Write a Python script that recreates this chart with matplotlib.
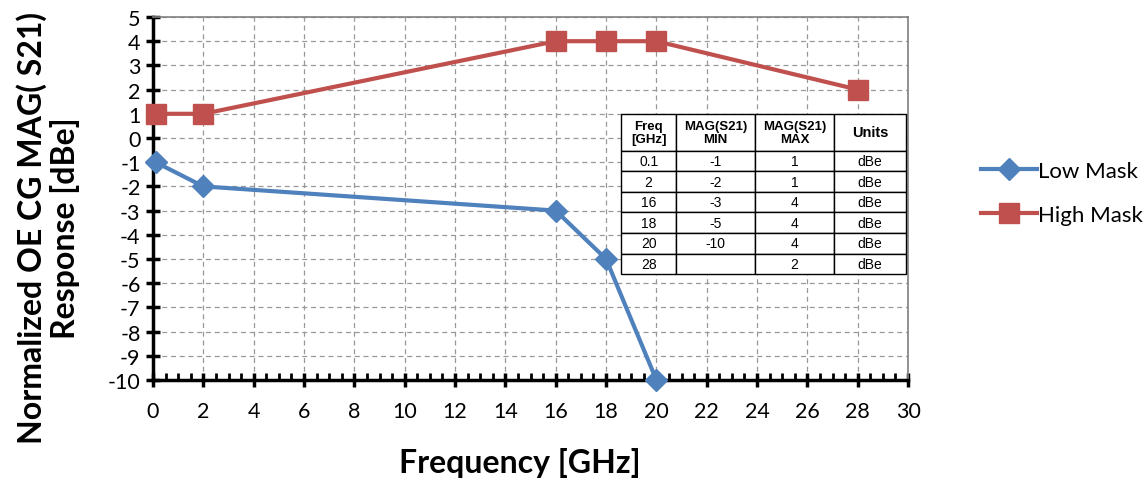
import numpy as np
import matplotlib.pyplot as plt
from matplotlib.ticker import MultipleLocator

# mask data
low_freq = [0.1, 2, 16, 18, 20]
low_mag = [-1, -2, -3, -5, -10]
high_freq = [0.1, 2, 16, 18, 20, 28]
high_mag = [1, 1, 4, 4, 4, 2]

table_header = ['Freq\n[GHz]', 'MAG(S21)\nMIN', 'MAG(S21)\nMAX', 'Units']
table_rows = [
    ['0.1', '-1', '1', 'dBe'],
    ['2', '-2', '1', 'dBe'],
    ['16', '-3', '4', 'dBe'],
    ['18', '-5', '4', 'dBe'],
    ['20', '-10', '4', 'dBe'],
    ['28', '', '2', 'dBe'],
]

plt.rcParams['font.family'] = ['Lato', 'DejaVu Sans']
plt.rcParams['axes.unicode_minus'] = False

fig = plt.figure(figsize=(11.47, 4.85), dpi=100)
ax = fig.add_axes([0.1334, 0.2144, 0.6583, 0.7485])

ax.plot(low_freq, low_mag, color='#4F81BD', lw=3, marker='D', markersize=11,
        label='Low Mask', clip_on=False, zorder=3)
ax.plot(high_freq, high_mag, color='#C0504D', lw=3, marker='s', markersize=14,
        label='High Mask', clip_on=False, zorder=3)

ax.set_xlim(0, 30)
ax.set_ylim(-10, 5)
ax.xaxis.set_major_locator(MultipleLocator(2))
ax.xaxis.set_minor_locator(MultipleLocator(0.5))
ax.yaxis.set_major_locator(MultipleLocator(1))
ax.grid(True, which='major', color='#999999', ls=(0, (4, 3)), lw=0.9)

for s in ['left', 'bottom']:
    ax.spines[s].set_linewidth(2.5)
    ax.spines[s].set_color('black')
for s in ['top', 'right']:
    ax.spines[s].set_linewidth(1.2)
    ax.spines[s].set_color('#808080')

ax.tick_params(which='major', direction='inout', length=10, width=2.5, labelsize=15.5, pad=4)
ax.tick_params(axis='x', which='minor', direction='in', length=5, width=2)
ax.tick_params(axis='x', which='major', pad=10)

ax.set_xlabel('Frequency [GHz]', fontsize=23, fontweight='bold')
ax.xaxis.set_label_coords(0.486, -0.185)
fig.text(0.042, 0.530, 'Normalized OE CG MAG( S21)\nResponse [dBe]', fontsize=23,
         fontweight='bold', rotation=90, ha='center', va='center',
         multialignment='center', linespacing=1.15)

# table
tab = ax.table(cellText=table_rows, colLabels=table_header, cellLoc='center',
               colWidths=[55, 79, 79, 72], bbox=[0.620, 0.292, 0.377, 0.441])
tab.auto_set_font_size(False)
n = len(table_rows) + 1
hdr_h = 37.0
row_h = (160 - hdr_h) / (n - 1)
for (r, c), cell in tab.get_celld().items():
    cell.set_linewidth(1.0)
    cell.set_edgecolor('black')
    cell.get_text().set_fontfamily('Liberation Sans')
    if r == 0:
        cell.set_height(hdr_h / 160 * 0.441)
        cell.get_text().set_fontweight('bold')
        cell.get_text().set_fontsize(9.5 if c < 3 else 10.5)
    else:
        cell.set_height(row_h / 160 * 0.441)
        cell.get_text().set_fontsize(10)
tab.set_zorder(4)

fig.legend(loc='center left', bbox_to_anchor=(0.838, 0.60), frameon=False,
           fontsize=16, handlelength=2.5, labelspacing=1.1, handletextpad=0.05)

plt.savefig('out.png', dpi=100)
